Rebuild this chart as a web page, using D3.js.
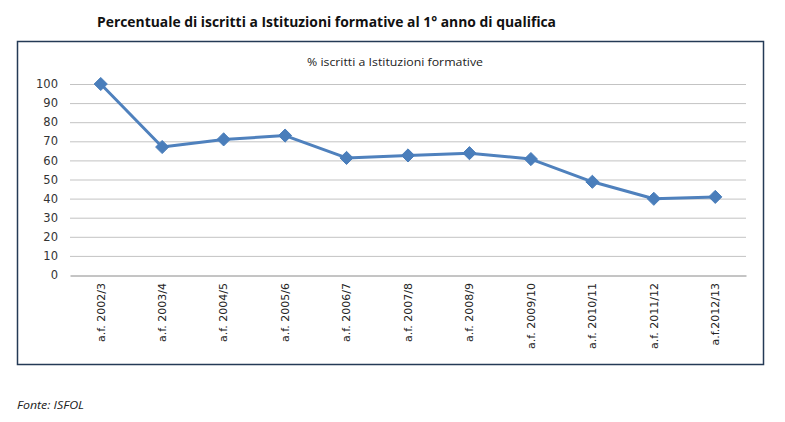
<!DOCTYPE html>
<html>
<head>
<meta charset="utf-8">
<script src="https://cdn.jsdelivr.net/npm/d3@7"></script>
<style>
  body { margin: 0; background: #fff; }
</style>
</head>
<body>
<div id="chart"></div>
<script>
// data
var categories = ["a.f. 2002/3", "a.f. 2003/4", "a.f. 2004/5", "a.f. 2005/6", "a.f. 2006/7",
  "a.f. 2007/8", "a.f. 2008/9", "a.f. 2009/10", "a.f. 2010/11", "a.f. 2011/12", "a.f.2012/13"];
var values = [100, 67, 71, 73, 61.3, 62.6, 63.8, 60.7, 48.8, 39.9, 40.9];
var yTicks = [0, 10, 20, 30, 40, 50, 60, 70, 80, 90, 100];

var W = 785, H = 422;
var svg = d3.select("#chart").append("svg")
  .attr("width", W)
  .attr("height", H);

// heading
svg.append("text")
  .attr("x", 97).attr("y", 27)
  .attr("font-family", "Open Sans, sans-serif")
  .attr("font-weight", "bold")
  .attr("font-size", 13.5)
  .attr("textLength", 459)
  .attr("lengthAdjust", "spacingAndGlyphs")
  .attr("fill", "#111")
  .text("Percentuale di iscritti a Istituzioni formative al 1° anno di qualifica");

// chart frame
svg.append("rect")
  .attr("x", 17.5).attr("y", 41.5)
  .attr("width", 746).attr("height", 323)
  .attr("fill", "#fff")
  .attr("stroke", "#243a56")
  .attr("stroke-width", 1.5);

svg.append("text")
  .attr("x", 395).attr("y", 66)
  .attr("text-anchor", "middle")
  .attr("font-family", "Open Sans, sans-serif")
  .attr("font-size", 11)
  .attr("textLength", 176)
  .attr("lengthAdjust", "spacingAndGlyphs")
  .attr("fill", "#222")
  .text("% iscritti a Istituzioni formative");

var margin = {left: 70, top: 84, right: 746, bottom: 275};

var x = d3.scaleBand()
  .domain(categories)
  .range([margin.left, margin.right])
  .padding(0);

var y = d3.scaleLinear()
  .domain([0, 100])
  .range([margin.bottom, margin.top]);

// gridlines
svg.append("g")
  .selectAll("line")
  .data(yTicks.filter(function(d) { return d > 0; }))
  .enter().append("line")
  .attr("x1", margin.left).attr("x2", margin.right)
  .attr("y1", function(d) { return y(d) + 0.5; })
  .attr("y2", function(d) { return y(d) + 0.5; })
  .attr("stroke", "#c3c3c3")
  .attr("stroke-width", 1);

// Y axis labels
var yAxis = svg.append("g")
  .attr("transform", "translate(" + margin.left + ",0)")
  .call(d3.axisLeft(y).tickValues(yTicks).tickSize(0).tickPadding(12));
yAxis.select(".domain").remove();
yAxis.selectAll("text")
  .attr("font-family", "DejaVu Sans, sans-serif")
  .attr("font-size", 11.5)
  .attr("fill", "#333");

// X axis
var xAxis = svg.append("g")
  .attr("transform", "translate(0," + margin.bottom + ")")
  .call(d3.axisBottom(x).tickSize(0).tickSizeOuter(0));
xAxis.select(".domain")
  .attr("stroke", "#8a8a8a")
  .attr("stroke-width", 1)
  .attr("transform", "translate(0,0.5)");
xAxis.selectAll("text")
  .attr("font-family", "DejaVu Sans, sans-serif")
  .attr("font-size", 11)
  .attr("fill", "#222")
  .attr("text-anchor", "end")
  .attr("transform", "rotate(-90)")
  .attr("x", -8)
  .attr("y", 0)
  .attr("dy", "0.35em");

// the line
var line = d3.line()
  .x(function(d, i) { return x(categories[i]) + x.bandwidth() / 2; })
  .y(function(d) { return y(d); });

svg.append("path")
  .datum(values)
  .attr("d", line)
  .attr("fill", "none")
  .attr("stroke", "#4f81bd")
  .attr("stroke-width", 3)
  .attr("stroke-linejoin", "round");

// diamond markers
svg.append("g")
  .selectAll("path")
  .data(values)
  .enter().append("path")
  .attr("d", d3.symbol().type(d3.symbolDiamond2).size(110))
  .attr("transform", function(d, i) {
    return "translate(" + (x(categories[i]) + x.bandwidth() / 2) + "," + y(d) + ")";
  })
  .attr("fill", "#4a7ebb")
  .attr("stroke", "#4a7ebb")
  .attr("stroke-width", 1);

// source note
svg.append("text")
  .attr("x", 17).attr("y", 409)
  .attr("font-family", "Open Sans, sans-serif")
  .attr("font-style", "italic")
  .attr("font-size", 10.5)
  .attr("textLength", 67)
  .attr("lengthAdjust", "spacingAndGlyphs")
  .attr("fill", "#222")
  .text("Fonte: ISFOL");
</script>
</body>
</html>
